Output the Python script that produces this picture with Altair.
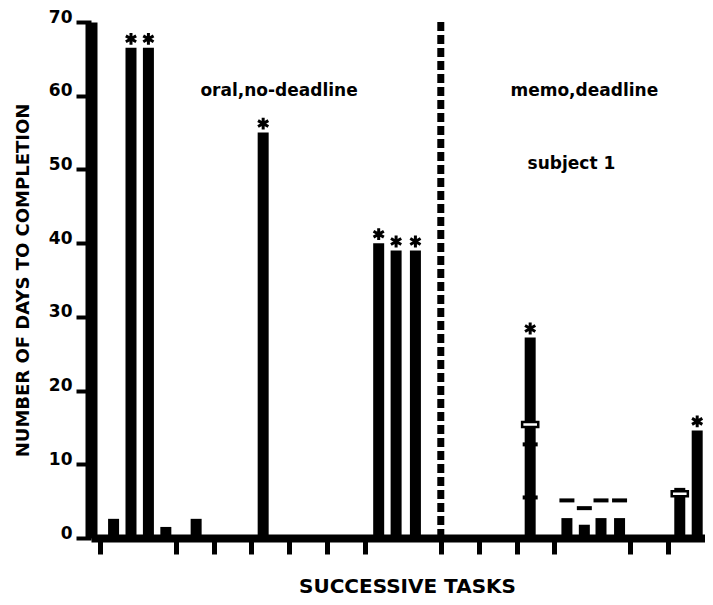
import altair as alt
import pandas as pd

# Task positions along the time axis (in tick units) and days to completion
task_x = [0.36, 0.82, 1.28, 1.74, 2.54, 4.31, 7.36, 7.82, 8.33,
          11.36, 12.33, 12.79, 13.23, 13.72, 15.31, 15.77]
days = [2.6, 66.5, 66.5, 1.5, 2.6, 55.0, 40.0, 39.0, 39.0,
        27.2, 2.7, 1.8, 2.7, 2.7, 6.8, 14.6]
starred = [False, True, True, False, False, True, True, True, True,
           True, False, False, False, False, False, True]

# extra markers drawn on the memo-condition bars
dash_x = [11.36, 11.36, 12.33, 12.79, 13.23, 13.72]
dash_y = [12.7, 5.5, 5.1, 4.05, 5.1, 5.1]
open_x = [11.36, 15.31]
open_y = [15.4, 6.0]

# phase change
phase_x = [9.0]
phase_top = [70]

x_ticks = [0, 2, 3, 4, 5, 6, 7, 9, 10, 11, 12, 14, 15]
y_ticks = list(range(0, 71, 5))

labels_txt = ["oral,no-deadline", "memo,deadline", "subject 1"]
labels_x = [4.73, 12.79, 12.45]
labels_y = [60.0, 60.0, 50.0]

FONT = "DejaVu Sans"

bars_df = pd.DataFrame({"x": task_x, "days": days, "star": starred})
dash_df = pd.DataFrame({"x": dash_x, "y": dash_y})
open_df = pd.DataFrame({"x": open_x, "y": open_y})
phase_df = pd.DataFrame({"x": phase_x, "y0": [0] * len(phase_x), "y1": phase_top})
text_df = pd.DataFrame({"t": labels_txt, "x": labels_x, "y": labels_y})

xscale = alt.Scale(domain=[-0.104, 15.844], nice=False, zero=False)
yscale = alt.Scale(domain=[0, 70], nice=False)

xaxis = alt.Axis(
    values=x_ticks, labels=False, grid=False,
    domain=True, domainWidth=8, domainColor="black",
    ticks=True, tickSize=16, tickWidth=5, tickColor="black",
    title="SUCCESSIVE TASKS", titleFont=FONT, titleFontSize=20,
    titleFontWeight="bold", titleColor="black",
    titleBaseline="alphabetic", titleY=54, titleX=316, titleAlign="center",
)
yaxis = alt.Axis(
    values=y_ticks, grid=False,
    labelExpr="datum.value % 10 == 0 ? datum.label : ''",
    labelFont=FONT, labelFontSize=17, labelFontWeight="bold",
    labelColor="black", labelBaseline="alphabetic", labelPadding=4,
    domain=True, domainWidth=12, domainColor="black",
    ticks=True, tickSize=15, tickWidth=4, tickColor="black",
    title="NUMBER OF DAYS TO COMPLETION", titleFont=FONT, titleFontSize=18,
    titleFontWeight="bold", titleColor="black",
    titleBaseline="alphabetic", titleX=-63, titleAngle=-90,
)

bars = alt.Chart(bars_df).mark_bar(color="black", size=11, clip=True).encode(
    x=alt.X("x:Q", scale=xscale, axis=xaxis),
    y=alt.Y("days:Q", scale=yscale, axis=yaxis),
)

asterisk = "M0,-1L0,1M-0.87,-0.5L0.87,0.5M-0.87,0.5L0.87,-0.5"
stars = alt.Chart(bars_df).transform_filter("datum.star").mark_point(
    shape=asterisk, size=140, filled=False, stroke="black", strokeWidth=3,
    opacity=1, yOffset=-9, clip=True,
).encode(x=alt.X("x:Q", scale=xscale), y=alt.Y("days:Q", scale=yscale))

dashes = alt.Chart(dash_df).mark_tick(
    color="black", orient="horizontal", size=15, thickness=4, opacity=1
).encode(x=alt.X("x:Q", scale=xscale), y=alt.Y("y:Q", scale=yscale))

opens = alt.Chart(open_df).mark_point(
    shape="M-1,-0.3L1,-0.3L1,0.3L-1,0.3Z", size=260, filled=True,
    fill="white", stroke="black", strokeWidth=2.5, opacity=1,
).encode(x=alt.X("x:Q", scale=xscale), y=alt.Y("y:Q", scale=yscale))

phase = alt.Chart(phase_df).mark_rule(
    color="black", strokeWidth=7, strokeDash=[9, 4]
).encode(
    x=alt.X("x:Q", scale=xscale),
    y=alt.Y("y0:Q", scale=yscale),
    y2="y1:Q",
)

texts = alt.Chart(text_df).mark_text(
    font=FONT, fontSize=17, fontWeight="bold", color="black",
    align="center", baseline="alphabetic",
).encode(x=alt.X("x:Q", scale=xscale), y=alt.Y("y:Q", scale=yscale), text="t:N")

chart = alt.layer(phase, bars, dashes, opens, stars, texts).properties(
    width=614, height=516,
    autosize=alt.AutoSizeParams(type="none"),
    padding={"left": 83, "top": 14, "right": 0, "bottom": 59},
    background="white",
).configure_view(stroke=None)

chart.save("out.html", embed_options={"renderer": "svg", "actions": False})
